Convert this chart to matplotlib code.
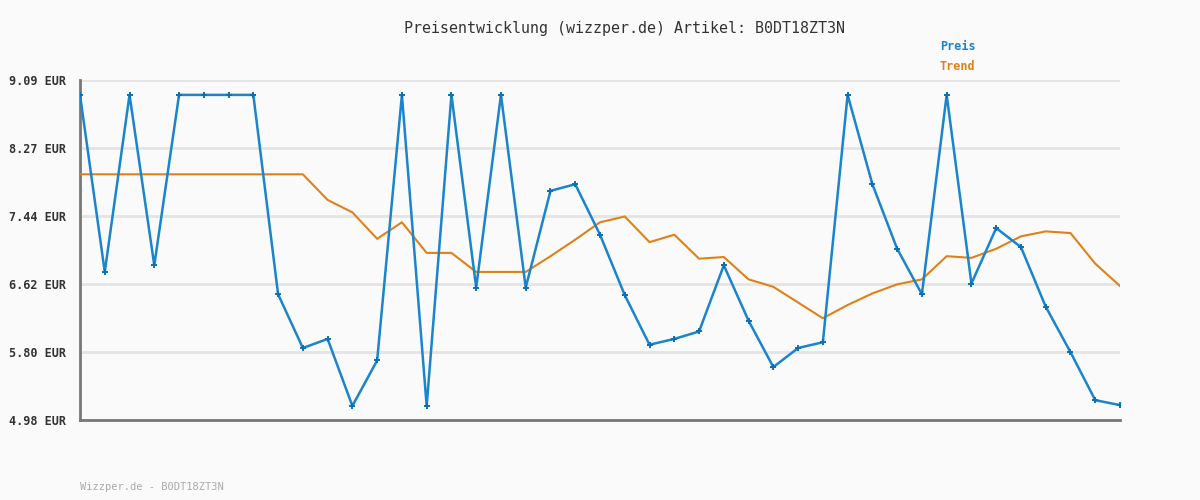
import matplotlib
matplotlib.use("Agg")
import matplotlib.pyplot as plt
import numpy as np

# price history (EUR)
preis = [8.91, 6.77, 8.91, 6.85, 8.91, 8.91, 8.91, 8.91, 6.50, 5.85,
         5.96, 5.15, 5.70, 8.91, 5.15, 8.91, 6.58, 8.91, 6.58, 7.75,
         7.83, 7.22, 6.49, 5.89, 5.96, 6.05, 6.85, 6.18, 5.62, 5.85,
         5.92, 8.91, 7.83, 7.05, 6.50, 8.91, 6.63, 7.30, 7.07, 6.35,
         5.80, 5.22, 5.16]
trend = [7.95, 7.95, 7.95, 7.95, 7.95, 7.95, 7.95, 7.95, 7.95, 7.95,
         7.64, 7.49, 7.17, 7.37, 7.00, 7.00, 6.77, 6.77, 6.77, 6.96,
         7.16, 7.37, 7.44, 7.13, 7.22, 6.93, 6.95, 6.68, 6.59, 6.40,
         6.21, 6.37, 6.51, 6.62, 6.68, 6.96, 6.94, 7.05, 7.20, 7.26,
         7.24, 6.87, 6.60]
y_ticks = [4.98, 5.80, 6.62, 7.44, 8.27, 9.09]
artikel = "B0DT18ZT3N"

bg = "#fafafa"
blue = "#1a84cc"
orange = "#e08018"
mono = "DejaVu Sans Mono"

fig = plt.figure(figsize=(12, 5), dpi=100, facecolor=bg)
ax = fig.add_axes([80 / 1200, 0.16, 1040 / 1200, 0.68])
ax.set_facecolor(bg)

x = np.arange(len(preis))
ax.plot(x, trend, color=orange, lw=1.5, zorder=3)
ax.plot(x, preis, color=blue, lw=1.8, marker="+", ms=4.5, mew=1.4,
        mec="#0a70b8", zorder=4)

ax.set_xlim(0, len(preis) - 1)
ax.set_ylim(y_ticks[0], y_ticks[-1])
ax.set_yticks(y_ticks)
ax.set_yticklabels([f"{v:.2f} EUR" for v in y_ticks], fontfamily=mono,
                   fontsize=8.5, fontweight="bold", color="#333333")
ax.set_xticks([])
ax.tick_params(axis="y", length=0, pad=10)
ax.grid(axis="y", color="#e4e4e4", lw=2, zorder=0)
ax.set_axisbelow(True)

for s in ["top", "right"]:
    ax.spines[s].set_visible(False)
for s in ["left", "bottom"]:
    ax.spines[s].set_color("#777777")
    ax.spines[s].set_linewidth(2)

fig.text(624 / 1200, 1 - 28 / 500, f"Preisentwicklung (wizzper.de) Artikel: {artikel}",
         ha="center", va="center", fontfamily=mono, fontsize=10.8, color="#333333")
fig.text(940 / 1200, 1 - 47 / 500, "Preis", ha="left", va="center",
         fontfamily=mono, fontsize=8.5, fontweight="bold", color=blue)
fig.text(940 / 1200, 1 - 67 / 500, "Trend", ha="left", va="center",
         fontfamily=mono, fontsize=8.5, fontweight="bold", color=orange)
fig.text(80 / 1200, 1 - 487 / 500, f"Wizzper.de - {artikel}", ha="left", va="center",
         fontfamily=mono, fontsize=7.5, color="#aaaaaa")

fig.savefig("out.png", dpi=100, facecolor=bg)
